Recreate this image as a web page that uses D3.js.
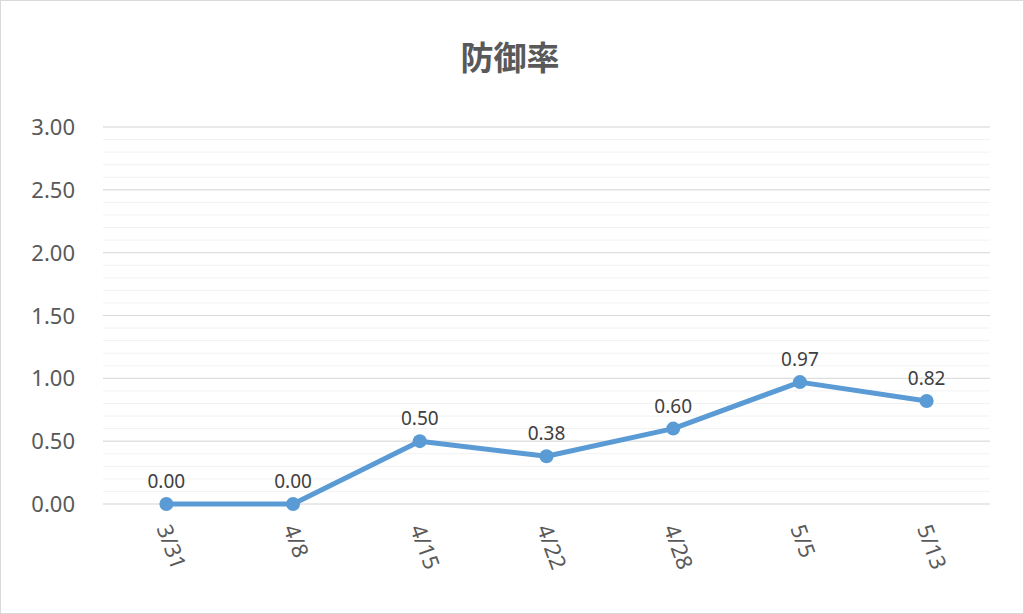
<!DOCTYPE html><html><head><meta charset="utf-8"><script src="https://cdn.jsdelivr.net/npm/d3@7/dist/d3.min.js"></script>
<style>body{margin:0;background:#fff}</style></head><body><svg id="c" width="1024" height="614"></svg><script>
const categories=["3/31","4/8","4/15","4/22","4/28","5/5","5/13"];
const values=[0.00,0.00,0.50,0.38,0.60,0.97,0.82];
const yTicks=[0,0.5,1,1.5,2,2.5,3];
const svg=d3.select("#c");
const font="'Noto Sans', 'Open Sans', sans-serif";
svg.append("rect").attr("x",0.5).attr("y",0.5).attr("width",1023).attr("height",613).attr("fill","#fff").attr("stroke","#d9d9d9");
const x=d3.scaleBand().domain(categories).range([103,990]);
const y=d3.scaleLinear().domain([0,3]).range([504,127]);
const minor=d3.range(0,31).map(i=>i/10);
svg.append("g").selectAll("line").data(minor).join("line").attr("x1",103).attr("x2",990).attr("y1",d=>y(d)).attr("y2",d=>y(d)).attr("stroke","#f2f2f2");
svg.append("g").selectAll("line").data(yTicks).join("line").attr("x1",103).attr("x2",990).attr("y1",d=>y(d)).attr("y2",d=>y(d)).attr("stroke","#d9d9d9");
svg.append("g").selectAll("text").data(yTicks).join("text").attr("x",75).attr("y",d=>y(d)+8).attr("text-anchor","end").attr("font-family",font).attr("font-size",22).attr("fill","#595959").text(d=>d.toFixed(2));
const cx=d=>x(d)+x.bandwidth()/2;
svg.append("path").datum(categories.map((c,i)=>[cx(c),y(values[i])])).attr("d",d3.line()).attr("fill","none").attr("stroke","#5b9bd5").attr("stroke-width",5).attr("stroke-linejoin","round");
svg.append("g").selectAll("circle").data(categories).join("circle").attr("cx",cx).attr("cy",(c,i)=>y(values[i])).attr("r",7).attr("fill","#5b9bd5");
svg.append("g").selectAll("text").data(categories).join("text").attr("x",cx).attr("y",(c,i)=>y(values[i])-16).attr("text-anchor","middle").attr("font-family",font).attr("font-size",19).attr("fill","#404040").text((c,i)=>values[i].toFixed(2));
svg.append("g").selectAll("text").data(categories).join("text").attr("transform",c=>`translate(${cx(c)-10},${528}) rotate(70)`).attr("text-anchor","start").attr("font-family",font).attr("font-size",22).attr("fill","#595959").text(c=>c);
svg.append("text").attr("x",510).attr("y",70).attr("text-anchor","middle").attr("font-family","'Noto Sans CJK JP', sans-serif").attr("font-weight","bold").attr("font-size",33).attr("fill","#595959").text("防御率");
</script></body></html>
